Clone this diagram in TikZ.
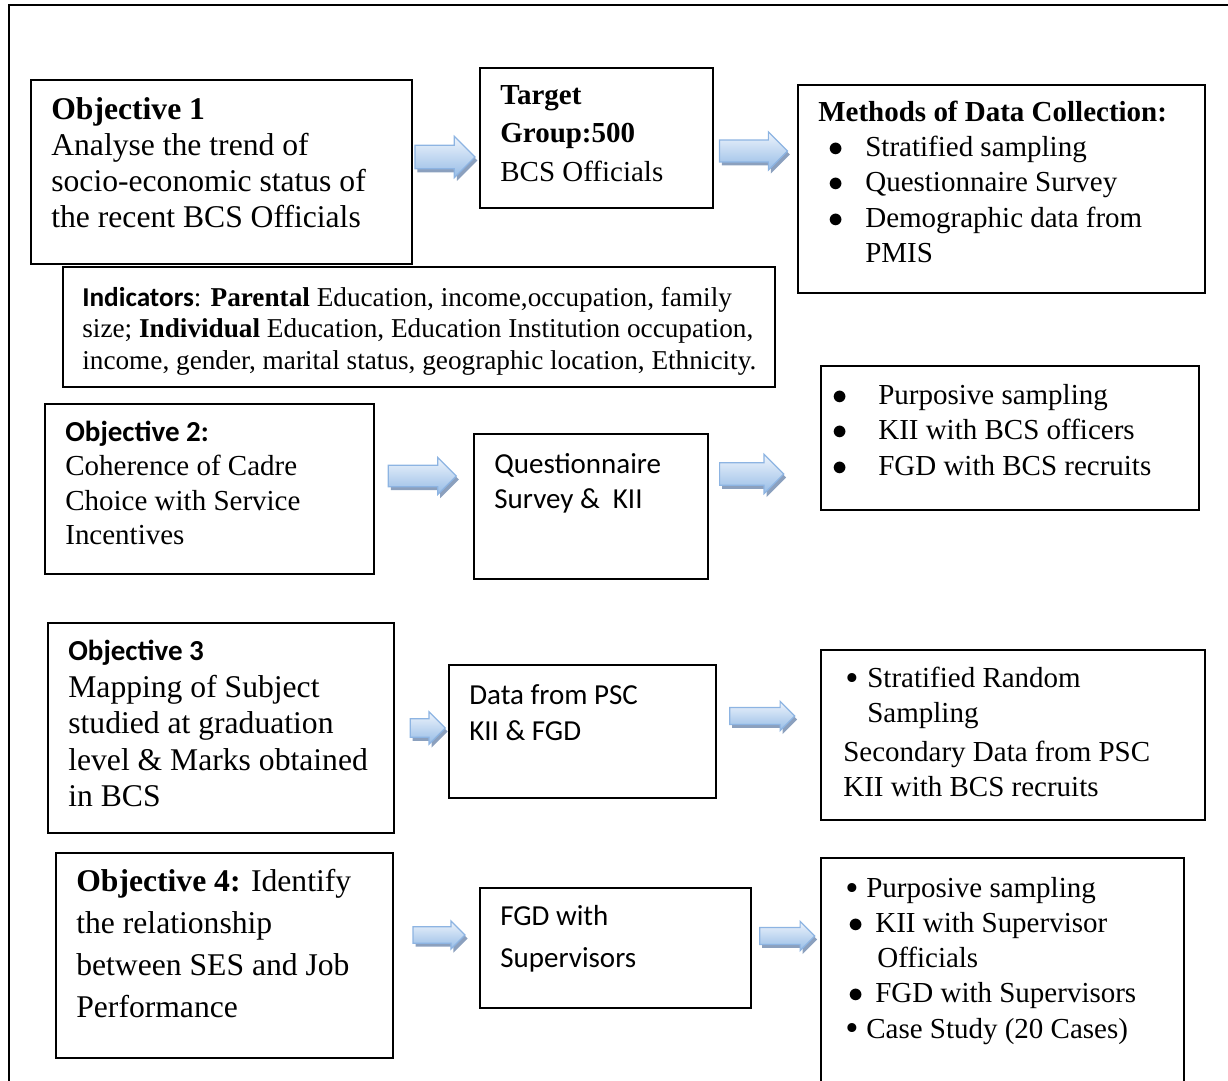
\documentclass[tikz,border=0pt]{standalone}
\usepackage{fontspec}
\usepackage{graphicx}
\setmainfont{Liberation Serif}
\newfontfamily\calfont{Carlito}
\usetikzlibrary{shapes.arrows,shadows}

\newlength\pxl \setlength\pxl{0.02cm}
% bullet line: shift, bullet box width, text
\newcommand\bul[3]{\hspace*{#1\pxl}\makebox[#2\pxl][l]{$\bullet$}#3}
\newcommand\sbul[3]{\hspace*{#1\pxl}\makebox[#2\pxl][l]{\smash{\raisebox{-0.1em}{\scalebox{1.3}{\textbullet}}}}#3}

\definecolor{arrline}{RGB}{141,180,226}
\definecolor{arrtop}{RGB}{238,244,252}
\definecolor{arrbot}{RGB}{150,188,230}
\definecolor{arrshadow}{RGB}{100,128,168}

\tikzset{
  box/.style={draw, line width=1pt, anchor=north west, inner sep=0pt},
  txt/.style={anchor=north west, inner sep=0pt, align=left},
  fbig/.style={font=\fontsize{18}{20.5}\selectfont},
  fmid/.style={font=\fontsize{16.5}{20.2}\selectfont},
  fsmall/.style={font=\fontsize{15.5}{17.9}\selectfont},
  fcal/.style={font=\calfont\fontsize{16.5}{20.2}\selectfont},
  barrow/.style 2 args={single arrow, draw=arrline, line width=0.7pt,
    top color=arrtop, bottom color=arrbot, inner xsep=0pt,
    inner ysep=0.28*#2*\pxl, minimum height=#1*\pxl,
    single arrow head extend=0.22*#2*\pxl,
    drop shadow={shadow xshift=0.05cm, shadow yshift=-0.07cm, fill=arrshadow, opacity=0.75}},
}

\begin{document}
\begin{tikzpicture}[x=0.02cm, y=-0.02cm]
    \useasboundingbox (0,0) rectangle (1228,1081);
    \clip (0,0) rectangle (1228,1081);

    % outer frame
    \draw[line width=1.1pt] (9,1100) -- (9,5) -- (1240,5);

    % Objective 1
    \node[box, minimum width=381*\pxl, minimum height=184*\pxl] (obj1) at (30,79) {};
    \node[txt, fbig] (obj1t) at (51,97) {\textbf{Objective 1}\\Analyse the trend of\\socio-economic status of\\the recent BCS Officials};
    \node[box, minimum width=233*\pxl, minimum height=140*\pxl] (targ) at (479,67) {};
    \node[txt, fmid, font=\fontsize{16.5}{21.9}\selectfont] (targt) at (500,85) {\textbf{Target}\\\textbf{Group:500}\\BCS Officials};
    \node[box, minimum width=407*\pxl, minimum height=208*\pxl] (meth) at (797,84) {};
    \node[txt, fmid] (metht) at (818,101) {\textbf{Methods of Data Collection:}\\[-0.5pt]
        \bul{10}{37}{Stratified sampling}\\
        \bul{10}{37}{Questionnaire Survey}\\
        \bul{10}{37}{Demographic data from}\\
        \hspace*{47\pxl}PMIS};
    \node[barrow={60}{40}] (ar1) at (439,157) {};
    \node[barrow={68}{37}] (ar2) at (748,151) {};

    % Indicators
    \node[box, minimum width=712*\pxl, minimum height=120*\pxl] (ind) at (62,266) {};
    \node[txt, fsmall] (indt) at (82,287) {{\calfont\bfseries Indicators}: \textbf{Parental} Education, income,occupation, family\\
        size; \textbf{Individual} Education, Education Institution occupation,\\
        income, gender, marital status, geographic location, Ethnicity.};

    % Objective 2
    \node[box, minimum width=329*\pxl, minimum height=170*\pxl] (obj2) at (44,403) {};
    \node[txt, fmid, font=\fontsize{16.5}{19.5}\selectfont] (obj2t) at (65,421) {{\calfont\bfseries Objective 2:}\\Coherence of Cadre\\Choice with Service\\Incentives};
    \node[box, minimum width=234*\pxl, minimum height=145*\pxl] (quest) at (473,433) {};
    \node[txt, fcal] (questt) at (494,453) {Questionnaire\\Survey \&~~KII};
    \node[box, minimum width=378*\pxl, minimum height=144*\pxl] (meth2) at (820,365) {};
    \node[txt, fmid] (meth2t) at (832,384) {\bul{0}{46}{Purposive sampling}\\
        \bul{0}{46}{KII with BCS officers}\\
        \bul{0}{46}{FGD with BCS recruits}};
    \node[barrow={68}{36}] (ar3) at (417,476) {};
    \node[barrow={64}{38}] (ar4) at (746,474) {};

    % Objective 3
    \node[box, minimum width=346*\pxl, minimum height=210*\pxl] (obj3) at (47,622) {};
    \node[txt, fbig, font=\fontsize{18}{20.8}\selectfont] (obj3t) at (68,640) {{\calfont\bfseries\fontsize{16.5}{20.8}\selectfont Objective 3}\\Mapping of Subject\\studied at graduation\\level \& Marks obtained\\in BCS};
    \node[box, minimum width=267*\pxl, minimum height=133*\pxl] (data) at (448,664) {};
    \node[txt, fcal, font=\calfont\fontsize{16.5}{20.5}\selectfont] (datat) at (469,684) {Data from PSC\\KII \& FGD};
    \node[box, minimum width=384*\pxl, minimum height=170*\pxl] (meth3) at (820,649) {};
    \node[txt, fmid, font=\fontsize{16.5}{20}\selectfont] (meth3t) at (843,667) {\sbul{2}{22}{Stratified Random}\\
        \hspace*{24\pxl}Sampling\\[2pt]
        Secondary Data from PSC\\
        KII with BCS recruits};
    \node[barrow={35}{31}] (ar5) at (423,728) {};
    \node[barrow={65}{28}] (ar6) at (758,716) {};

    % Objective 4
    \node[box, minimum width=337*\pxl, minimum height=205*\pxl] (obj4) at (55,852) {};
    \node[txt, fbig, font=\fontsize{18}{23.9}\selectfont] (obj4t) at (76,869) {\textbf{Objective 4:} Identify\\the relationship\\between SES and Job\\Performance};
    \node[box, minimum width=271*\pxl, minimum height=120*\pxl] (fgd) at (479,887) {};
    \node[txt, fcal, font=\calfont\fontsize{16.5}{23.9}\selectfont] (fgdt) at (500,905) {FGD with\\Supervisors};
    \node[box, minimum width=363*\pxl, minimum height=260*\pxl] (meth4) at (820,857) {};
    \node[txt, fmid, font=\fontsize{16.5}{20}\selectfont] (meth4t) at (845,877) {\sbul{0}{21}{Purposive sampling}\\
        \bul{3}{27}{KII with Supervisor}\\
        \hspace*{32\pxl}Officials\\
        \bul{3}{27}{FGD with Supervisors}\\
        \sbul{0}{21}{Case Study (20 Cases)}};
    \node[barrow={52}{27}] (ar7) at (435,935) {};
    \node[barrow={55}{28}] (ar8) at (783,936) {};
\end{tikzpicture}
\end{document}
